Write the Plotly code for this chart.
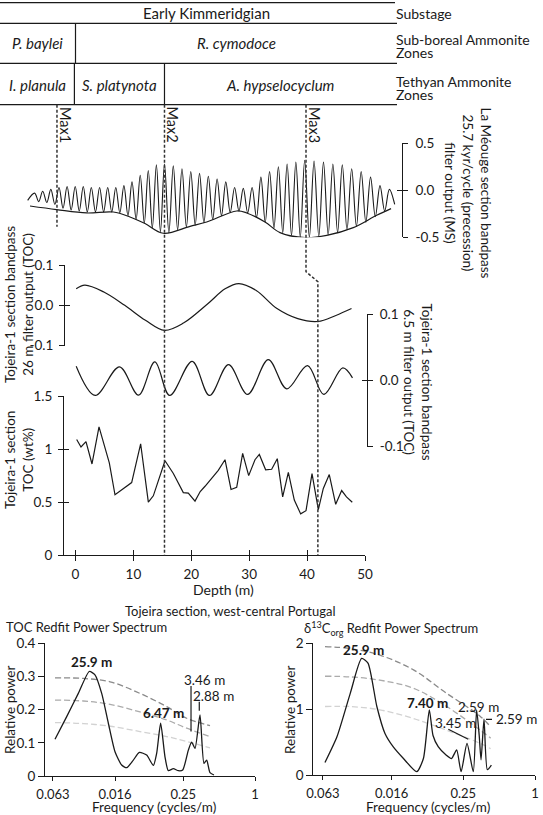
import plotly.graph_objects as go

W, H = 543, 815

# ======================= DATA =======================
# La Méouge section bandpass 25.7 kyr/cycle (MS): extrema, x in the shared depth scale (m)
meouge_start = [-8.26, -0.107]
meouge_end = [55.13, -0.15]
meouge_peak_pos = [-7.06, -5.66, -4.26, -2.85, -1.45, -0.05, 1.34, 2.73, 4.16, 5.56,
                   6.96, 8.36, 9.76, 11.18, 12.57, 13.97, 15.37, 16.89, 18.39, 19.91,
                   21.42, 22.94, 24.46, 25.96, 27.48, 28.98, 30.50, 32.02, 33.52, 35.04,
                   36.55, 38.06, 39.58, 41.20, 42.83, 44.45, 46.08, 47.70, 49.34, 50.96,
                   52.59, 54.21]
meouge_peak_val = [-0.03, -0.01, 0.01, 0.03, 0.04, 0.04, 0.04, 0.03, 0.03, 0.03,
                   0.03, 0.05, 0.09, 0.16, 0.21, 0.27, 0.28, 0.26, 0.23, 0.20,
                   0.18, 0.15, 0.12, 0.09, 0.03, 0.02, 0.03, 0.14, 0.20, 0.25,
                   0.28, 0.30, 0.32, 0.31, 0.30, 0.28, 0.27, 0.23, 0.20, 0.14,
                   0.05, 0.01]
meouge_trough_pos = [-6.36, -4.96, -3.56, -2.15, -0.75, 0.65, 2.04, 3.45, 4.86, 6.26,
                     7.66, 9.06, 10.47, 11.88, 13.27, 14.67, 16.13, 17.64, 19.15, 20.67,
                     22.18, 23.70, 25.21, 26.72, 28.23, 29.74, 31.26, 32.77, 34.28, 35.80,
                     37.31, 38.82, 40.39, 42.02, 43.64, 45.27, 46.89, 48.52, 50.15, 51.78,
                     53.40]
meouge_trough_val = [-0.12, -0.13, -0.15, -0.19, -0.21, -0.22, -0.23, -0.23, -0.23, -0.23,
                     -0.24, -0.27, -0.31, -0.35, -0.40, -0.44, -0.45, -0.42, -0.39, -0.37,
                     -0.345, -0.31, -0.27, -0.235, -0.22, -0.24, -0.29, -0.34, -0.40, -0.45,
                     -0.48, -0.50, -0.50, -0.49, -0.475, -0.45, -0.42, -0.385, -0.34, -0.28,
                     -0.22]
envelope_pos = [-7.86, -3.25, 1.93, 6.53, 9.41, 12.0, 15.16, 19.78, 22.66, 27.84,
                29.57, 32.73, 35.32, 39.64, 43.39, 47.98, 52.02, 54.5]
envelope_val = [-0.167, -0.205, -0.241, -0.231, -0.284, -0.354, -0.457, -0.383, -0.337, -0.220,
                -0.241, -0.337, -0.450, -0.503, -0.479, -0.397, -0.266, -0.195]

# Tojeira-1 26 m bandpass filter output (TOC)
f26_depth = [0.12, 1.61, 4.9, 8.5, 12.08, 15.37, 18.65, 22.85, 25.84, 28.22, 31.21, 34.8,
             38.39, 41.86, 44.97, 47.67]
f26_val = [0.041, 0.050, 0.033, 0.0, -0.037, -0.062, -0.044, 0.004, 0.041, 0.054, 0.037,
           -0.008, -0.033, -0.040, -0.025, -0.008]

# Tojeira-1 6.5 m bandpass filter output (TOC)
f65_depth = [0.12, 3.4, 7.6, 10.88, 13.7, 16.27, 20.15, 23.14, 26.43, 29.72, 33.3, 36.48,
             40.07, 42.88, 46.17, 47.84]
f65_val = [0.0215, -0.0226, 0.0206, -0.0221, 0.0281, -0.0226, 0.029, -0.0226, 0.024, -0.021,
           0.0316, -0.0125, 0.0226, -0.021, 0.019, 0.004]

# Tojeira-1 TOC (wt%)
toc_depth = [0.2, 0.95, 1.81, 2.85, 4.06, 5.84, 6.82, 9.7, 11.25, 12.58, 13.44, 15.46, 16.9,
             17.76, 18.62, 19.48, 20.64, 21.54, 22.37, 24.66, 25.82, 26.86, 27.84, 28.87,
             29.91, 31.0, 31.75, 32.84, 33.88, 34.85, 35.78, 36.76, 37.79, 38.89, 39.81,
             40.85, 41.94, 42.8, 43.83, 44.94, 45.97, 46.8, 47.8]
toc_val = [1.09, 1.02, 1.07, 0.86, 1.21, 0.87, 0.57, 0.685, 1.05, 0.50, 0.56, 0.89, 0.77,
           0.68, 0.59, 0.585, 0.51, 0.60, 0.65, 0.80, 0.90, 0.62, 0.64, 0.96, 0.75, 0.90,
           0.95, 0.805, 0.81, 0.91, 0.55, 0.78, 0.52, 0.39, 0.42, 0.77, 0.43, 0.63, 0.76,
           0.48, 0.61, 0.55, 0.50]
depth_ticks = [0, 10, 20, 30, 40, 50]

# Max markers (depth) and zones
max_labels = ["Max1", "Max2", "Max3"]
max_depth = [-3.2, 15.37, 39.81]
max3_lower_depth = 41.86
substage = "Early Kimmeridgian"
subboreal_zones = ["P. baylei", "R. cymodoce"]
subboreal_bounds = [-13.04, 0.0, 55.53]
tethyan_zones = ["I. planula", "S. platynota", "A. hypselocyclum"]
tethyan_bounds = [-13.04, -0.19, 15.37, 55.53]

# Redfit spectra (x = position on the frequency scale, tick labels below)
freq_ticktext = ["0.063", "0.016", "0.25", "1"]
toc_freq = [0.143, 0.31, 0.476, 0.633, 0.714, 0.81, 0.905, 1.0, 1.095, 1.167,
            1.262, 1.348, 1.452, 1.548, 1.595, 1.652, 1.714, 1.762, 1.833, 1.905,
            1.967, 2.048, 2.095, 2.143, 2.214, 2.271, 2.31, 2.357, 2.414]
toc_power = [0.111, 0.179, 0.249, 0.315, 0.305, 0.249, 0.159, 0.073, 0.033, 0.025,
             0.048, 0.071, 0.063, 0.032, 0.068, 0.159, 0.058, 0.016, 0.022, 0.016,
             0.018, 0.078, 0.102, 0.083, 0.184, 0.038, 0.048, 0.010, 0.003]
toc_conf_freq = [0.143, 0.548, 0.929, 1.357, 1.738, 2.024, 2.357]
toc_conf_hi = [0.296, 0.294, 0.284, 0.249, 0.209, 0.174, 0.152]
toc_conf_mid = [0.229, 0.226, 0.216, 0.193, 0.169, 0.144, 0.119]
toc_conf_lo = [0.161, 0.158, 0.150, 0.134, 0.119, 0.104, 0.085]

d13_freq = [0.158, 0.32, 0.50, 0.654, 0.74, 0.86, 0.97, 1.08, 1.22, 1.40,
            1.49, 1.57, 1.62, 1.69, 1.80, 1.87, 1.94, 2.00, 2.08, 2.165,
            2.21, 2.245, 2.27, 2.31, 2.355, 2.41]
d13_power = [0.19, 0.58, 1.24, 1.77, 1.70, 1.04, 0.63, 0.43, 0.25, 0.05,
             0.25, 0.99, 0.60, 0.43, 0.30, 0.25, 0.38, 0.05, 0.48, 0.05,
             0.99, 0.60, 0.23, 0.85, 0.08, 0.15]
d13_conf_freq = [0.158, 0.5, 0.9, 1.35, 1.805, 2.26, 2.40]
d13_conf_hi = [1.95, 1.92, 1.82, 1.60, 1.24, 0.89, 0.73]
d13_conf_mid = [1.50, 1.49, 1.44, 1.32, 1.04, 0.68, 0.56]
d13_conf_lo = [1.04, 1.04, 0.99, 0.86, 0.68, 0.48, 0.40]

# ======================= LAYOUT HELPERS =======================
FONT = "Lato"
INK = "#1a1a1a"
D0, PPM = 75.5, 5.79          # pixel of depth 0 and pixels per metre


def fx(p):
    return p / W


def fy(p):
    return 1 - p / H


def dpx(p):                    # pixel -> depth units
    return (p - D0) / PPM


# Build oscillation path from alternating extrema
osc_x, osc_y = [meouge_start[0]], [meouge_start[1]]
for i in range(len(meouge_peak_pos)):
    osc_x.append(meouge_peak_pos[i]); osc_y.append(meouge_peak_val[i])
    if i < len(meouge_trough_pos):
        osc_x.append(meouge_trough_pos[i]); osc_y.append(meouge_trough_val[i])
osc_x.append(meouge_end[0]); osc_y.append(meouge_end[1])

fig = go.Figure()
LW = 1.2
line_k = dict(color=INK, width=LW)

fig.add_trace(go.Scatter(x=osc_x, y=osc_y, mode="lines", line=dict(color=INK, width=1.1, shape="spline", smoothing=1.0),
                         xaxis="x", yaxis="y"))
fig.add_trace(go.Scatter(x=envelope_pos, y=envelope_val, mode="lines",
                         line=dict(color=INK, width=1.2, shape="spline", smoothing=1.0), xaxis="x", yaxis="y"))
fig.add_trace(go.Scatter(x=f26_depth, y=f26_val, mode="lines",
                         line=dict(color=INK, width=LW, shape="spline", smoothing=1.0), xaxis="x2", yaxis="y2"))
fig.add_trace(go.Scatter(x=f65_depth, y=f65_val, mode="lines",
                         line=dict(color=INK, width=LW, shape="spline", smoothing=1.0), xaxis="x2", yaxis="y3"))
fig.add_trace(go.Scatter(x=toc_depth, y=toc_val, mode="lines", line=line_k, xaxis="x2", yaxis="y4"))

# spectra
for yv, col in [(toc_conf_hi, "#8a8a8a"), (toc_conf_mid, "#ababab"), (toc_conf_lo, "#d2d2d2")]:
    fig.add_trace(go.Scatter(x=toc_conf_freq, y=yv, mode="lines",
                             line=dict(color=col, width=1.3, dash="6px,3px", shape="spline"), xaxis="x5", yaxis="y5"))
fig.add_trace(go.Scatter(x=toc_freq, y=toc_power, mode="lines",
                         line=dict(color=INK, width=1.3, shape="spline", smoothing=0.6), xaxis="x5", yaxis="y5"))
for yv, col in [(d13_conf_hi, "#8a8a8a"), (d13_conf_mid, "#ababab"), (d13_conf_lo, "#d2d2d2")]:
    fig.add_trace(go.Scatter(x=d13_conf_freq, y=yv, mode="lines",
                             line=dict(color=col, width=1.3, dash="6px,3px", shape="spline"), xaxis="x6", yaxis="y6"))
fig.add_trace(go.Scatter(x=d13_freq, y=d13_power, mode="lines",
                         line=dict(color=INK, width=1.3, shape="spline", smoothing=0.6), xaxis="x6", yaxis="y6"))

# empty traces to activate overlay axes (for crossing ticks)
for xa, ya in [("x", "y7"), ("x2", "y8"), ("x2", "y9"), ("x2", "y10"), ("x3", "y4")]:
    fig.add_trace(go.Scatter(x=[], y=[], xaxis=xa, yaxis=ya, showlegend=False, hoverinfo="skip"))

axis_common = dict(showgrid=False, zeroline=False, linecolor=INK, linewidth=1, tickcolor=INK,
                   tickwidth=1, automargin=False, tickfont=dict(family=FONT, size=13.5, color=INK))
tick_only = dict(showgrid=False, zeroline=False, showline=False, showticklabels=False, automargin=False,
                 tickcolor=INK, tickwidth=1, ticks="inside", ticklen=5)

lay = dict(
    template="none",
    width=W, height=H, margin=dict(l=0, r=0, t=0, b=0, pad=0, autoexpand=False),
    paper_bgcolor="white", plot_bgcolor="rgba(0,0,0,0)", showlegend=False,
    font=dict(family=FONT, size=13, color=INK),
    xaxis=dict(domain=[0, 1], range=[dpx(0), dpx(W)], visible=False, anchor="y", automargin=False),
    xaxis2=dict(axis_common, domain=[fx(64), fx(365.3)], range=[dpx(64), dpx(365.3)], anchor="y4",
                showline=True, ticks="outside", ticklen=5, tickvals=depth_ticks, ticklabelstandoff=1),
    xaxis3=dict(tick_only, overlaying="x2", range=[dpx(64), dpx(365.3)], anchor="y4", tickvals=depth_ticks),
    yaxis=dict(axis_common, domain=[fy(237.3), fy(143.3)], range=[-0.5, 0.5], anchor="free",
               position=fx(401.7), side="right", showline=True, ticks="outside", ticklen=5,
               tickvals=[-0.5, 0, 0.5], ticktext=["-0.5", "0.0", "0.5"], ticklabelstandoff=5),
    yaxis7=dict(tick_only, overlaying="y", range=[-0.5, 0.5], anchor="free", position=fx(401.7),
                side="right", tickvals=[-0.5, 0, 0.5]),
    yaxis2=dict(axis_common, domain=[fy(345.7), fy(265)], range=[-0.1, 0.1], anchor="free",
                position=fx(64), side="left", showline=True, ticks="outside", ticklen=5,
                tickvals=[-0.1, 0, 0.1], ticktext=["-0.1", "0.0", "0.1"], ticklabelstandoff=3),
    yaxis8=dict(tick_only, overlaying="y2", range=[-0.1, 0.1], anchor="free", position=fx(64),
                side="left", tickvals=[-0.1, 0, 0.1]),
    yaxis3=dict(axis_common, domain=[fy(446.7), fy(314.3)], range=[-0.1, 0.1], anchor="free",
                position=fx(367), side="right", showline=True, ticks="outside", ticklen=5,
                tickvals=[-0.1, 0, 0.1], ticktext=["-0.1", "0.0", "0.1"], ticklabelstandoff=4),
    yaxis9=dict(tick_only, overlaying="y3", range=[-0.1, 0.1], anchor="free", position=fx(367),
                side="right", tickvals=[-0.1, 0, 0.1]),
    yaxis4=dict(axis_common, domain=[fy(555.3), fy(396)], range=[0, 1.5], anchor="x2",
                side="left", showline=True, ticks="outside", ticklen=5,
                tickvals=[0, 0.5, 1, 1.5], ticktext=["0", "0.5", "1", "1.5"], ticklabelstandoff=3),
    yaxis10=dict(tick_only, overlaying="y4", range=[0, 1.5], anchor="x2", side="left",
                 tickvals=[0, 0.5, 1, 1.5]),
    xaxis5=dict(axis_common, domain=[fx(45), fx(255)], range=[0, 3], anchor="y5", showline=True,
                ticks="outside", ticklen=4, tickvals=[0.114, 1.0, 1.976, 3.0], ticktext=freq_ticktext,
                tickfont=dict(family=FONT, size=13, color=INK), ticklabelstandoff=2),
    yaxis5=dict(axis_common, domain=[fy(776), fy(643.3)], range=[0, 0.4], anchor="x5", showline=True,
                ticks="outside", ticklen=6, tickvals=[0, 0.1, 0.2, 0.3, 0.4],
                ticktext=["0", "0.1", "0.2", "0.3", "0.4"]),
    xaxis6=dict(axis_common, domain=[fx(313.3), fx(535)], range=[0, 3], anchor="y6", showline=True,
                ticks="outside", ticklen=4, tickvals=[0.13, 1.06, 2.03, 3.0], ticktext=freq_ticktext,
                tickfont=dict(family=FONT, size=13, color=INK), ticklabelstandoff=2),
    yaxis6=dict(axis_common, domain=[fy(775), fy(643.3)], range=[0, 2], anchor="x6", showline=True,
                ticks="outside", ticklen=6, tickvals=[0, 1, 2], ticktext=["0", "1", "2"]),
)
fig.update_layout(**lay)

shapes = []
ann = []


def note(text, x, y, xref="paper", yref="paper", size=13, angle=0, xanchor="center", **kw):
    d = dict(text=text, x=x, y=y, xref=xref, yref=yref, showarrow=False, textangle=angle,
             xanchor=xanchor, yanchor="middle", font=dict(family=FONT, size=size, color=INK))
    d.update(kw)
    ann.append(d)


# ---- stratigraphic table ----
for yy, x1 in [(2.7, 395), (23.3, 397), (63.3, 397), (104.7, 397)]:
    shapes.append(dict(type="line", xref="paper", yref="paper", x0=0, x1=fx(x1), y0=fy(yy), y1=fy(yy),
                       line=dict(color=INK, width=1.2)))
for b in subboreal_bounds[1:-1]:
    shapes.append(dict(type="line", xref="x", yref="paper", x0=b, x1=b, y0=fy(23.3), y1=fy(63.3),
                       line=dict(color=INK, width=1.2)))
for b in tethyan_bounds[1:-1]:
    shapes.append(dict(type="line", xref="x", yref="paper", x0=b, x1=b, y0=fy(63.3), y1=fy(104.7),
                       line=dict(color=INK, width=1.2)))

note(substage, fx(206), fy(13.3), size=15)
for i, z in enumerate(subboreal_zones):
    c = (subboreal_bounds[i] + subboreal_bounds[i + 1]) / 2
    note("<i>%s</i>" % z, c, fy(43.3), xref="x", size=15)
for i, z in enumerate(tethyan_zones):
    c = (tethyan_bounds[i] + tethyan_bounds[i + 1]) / 2
    note("<i>%s</i>" % z, c, fy(85), xref="x", size=15)
for t, yy in [("Substage", 13.3), ("Sub-boreal Ammonite", 39.2), ("Zones", 52.2),
              ("Tethyan Ammonite", 81.2), ("Zones", 94.2)]:
    note(t, fx(394), fy(yy), xanchor="left", size=14)

# ---- Max lines ----
dash_line = dict(color="#333333", width=1.5, dash="3px,2px")
shapes.append(dict(type="line", xref="x", yref="paper", x0=max_depth[0], x1=max_depth[0],
                   y0=fy(104.7), y1=fy(226.7), line=dash_line))
shapes.append(dict(type="line", xref="x", yref="paper", x0=max_depth[1], x1=max_depth[1],
                   y0=fy(104.7), y1=fy(555.3), line=dash_line))
shapes.append(dict(type="path", xref="x", yref="paper", line=dash_line,
                   path="M %f,%f L %f,%f L %f,%f L %f,%f" % (
                       max_depth[2], fy(104.7), max_depth[2], fy(271.7),
                       max3_lower_depth, fy(281.7), max3_lower_depth, fy(555.3))))
for lab, d in zip(max_labels, max_depth):
    note(lab, d, fy(125), xref="x", size=14.5, angle=90, xshift=9)

# ---- axis titles ----
note("La Méouge section bandpass<br>25.7 kyr/cycle (precession)<br>filter output (MS)",
     fx(467.5), fy(193), size=13.5, angle=90)
note("Tojeira-1 section bandpass<br>26 m filter output (TOC)", fx(19), fy(305), size=13.5, angle=-90)
note("Tojeira-1 section bandpass<br>6.5 m filter output (TOC)", fx(417.5), fy(382), size=13.5, angle=90)
note("Tojeira-1 section<br>TOC (wt%)", fx(19), fy(460), size=13.5, angle=-90)
note("Depth (m)", fx(223), fy(589), size=14)

# ---- spectra texts ----
note("Tojeira section, west-central Portugal", fx(229.5), fy(611), size=13)
note("TOC Redfit Power Spectrum", fx(4), fy(627), size=13, xanchor="left")
note("δ<sup>13</sup>C<sub>org</sub> Redfit Power Spectrum", fx(391), fy(628), size=13)
for xx in (10, 290):
    note("Relative power", fx(xx), fy(710), size=13.5, angle=-90)
for xx in (154, 427.5):
    note("Frequency (cycles/m)", fx(xx), fy(806.7), size=13.5)

# peak labels (left)
for t, u, v, b in [("25.9 m", 0.667, 0.344, True), ("6.47 m", 1.686, 0.189, True),
                   ("3.46 m", 2.279, 0.289, False), ("2.88 m", 2.414, 0.242, False)]:
    note("<b>%s</b>" % t if b else t, u, v, xref="x5", yref="y5", size=13.5)
shapes.append(dict(type="line", xref="x5", yref="y5", x0=2.086, x1=2.086, y0=0.271, y1=0.134,
                   line=dict(color=INK, width=1.2)))
shapes.append(dict(type="line", xref="x5", yref="y5", x0=2.204, x1=2.204, y0=0.224, y1=0.197,
                   line=dict(color=INK, width=1.2)))
# peak labels (right)
for t, u, v, b in [("25.9 m", 0.673, 1.898, True), ("7.40 m", 1.539, 1.098, True),
                   ("2.59 m", 2.229, 1.037, False), ("3.45 m", 1.924, 0.794, False)]:
    note("<b>%s</b>" % t if b else t, u, v, xref="x6", yref="y6", size=13.5)
note("2.59 m", 2.446, 0.846, xref="x6", yref="y6", size=13.5, xanchor="left")
shapes.append(dict(type="line", xref="x6", yref="y6", x0=2.337, x1=2.418, y0=0.846, y1=0.846,
                   line=dict(color=INK, width=1.2)))
shapes.append(dict(type="line", xref="x6", yref="y6", x0=1.827, x1=2.097, y0=0.694, y1=0.542,
                   line=dict(color=INK, width=1.2)))

fig.update_layout(shapes=shapes, annotations=ann)
fig.write_html("out.html", config={"displayModeBar": False},
               post_script="document.body.style.margin='0';document.body.style.padding='0';")
